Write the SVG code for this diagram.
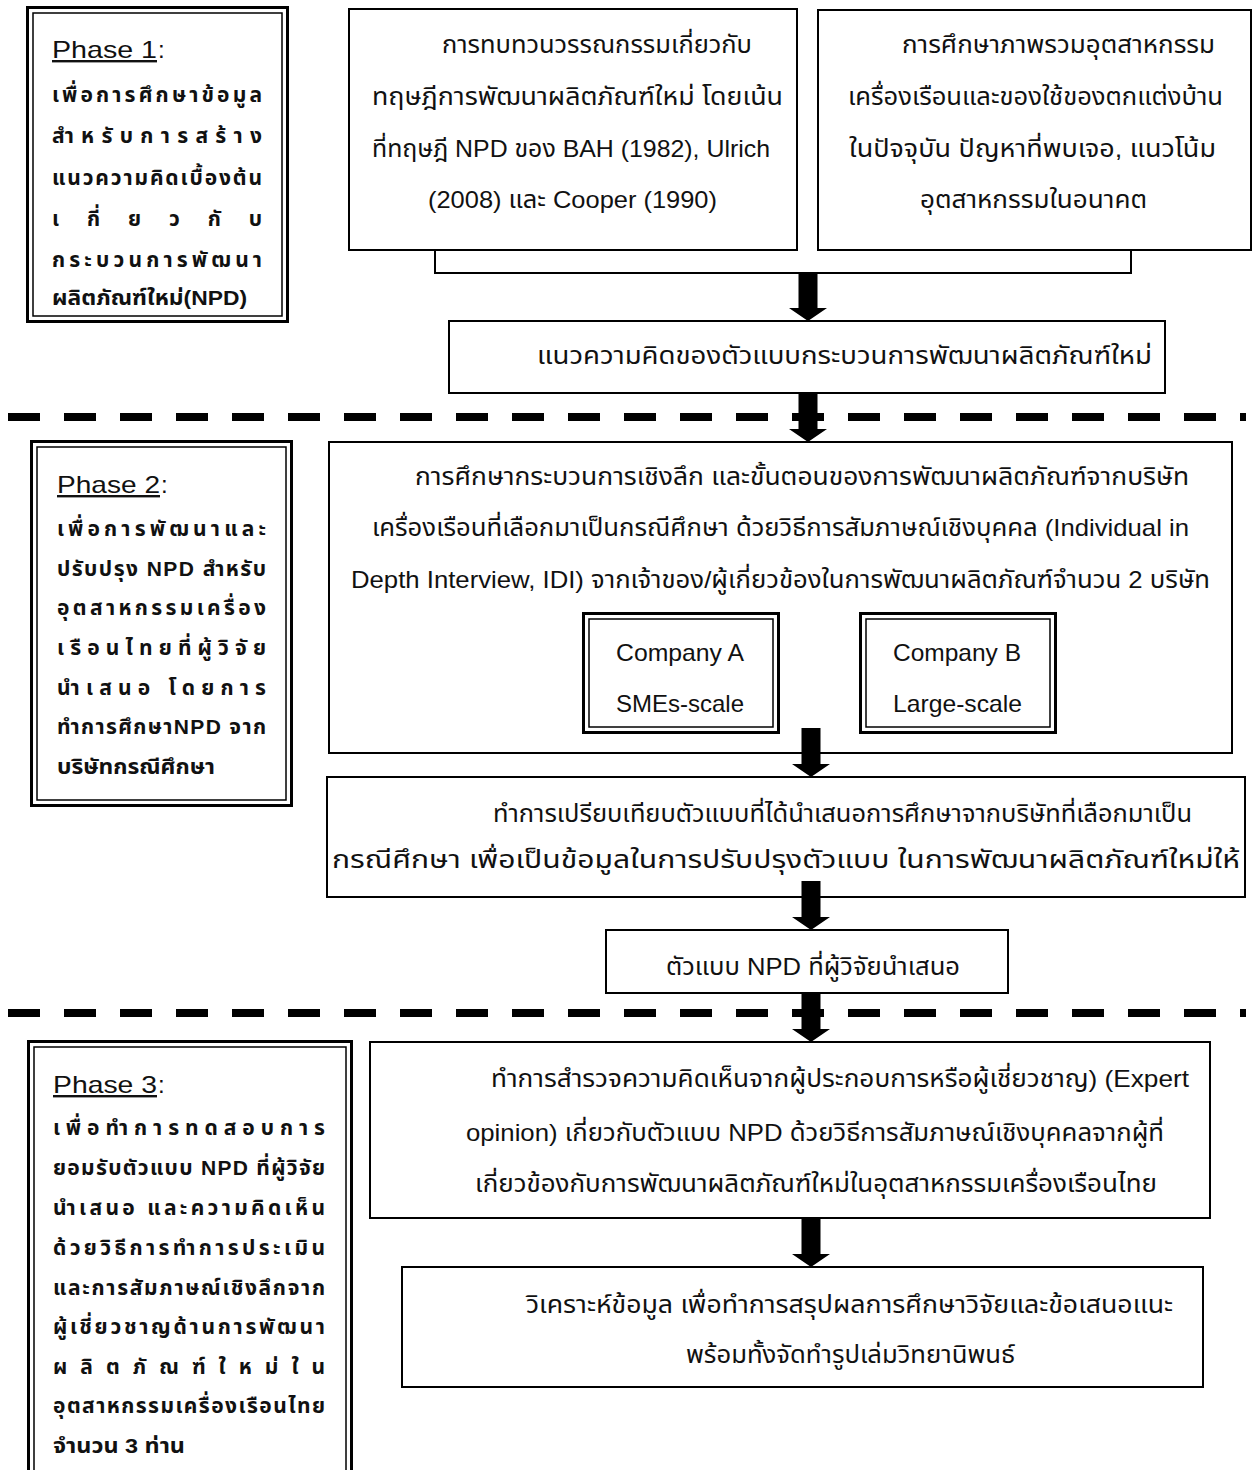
<svg xmlns="http://www.w3.org/2000/svg" xmlns:xlink="http://www.w3.org/1999/xlink" width="1253" height="1470" viewBox="0 0 1253 1470">
  <style>
    .box { fill: #fff; stroke: #000; stroke-width: 2; }
    .fo { fill: #fff; stroke: #000; stroke-width: 3; }
    .fi { fill: none; stroke: #000; stroke-width: 1.5; }
    .dash { stroke: #000; stroke-width: 8; stroke-dasharray: 32 24; fill: none; }
    .link { fill: none; stroke: #000; stroke-width: 2; }
    .t { font-family: 'Liberation Sans', 'Noto Sans Thai', 'Noto Sans', sans-serif; font-size: 24px; fill: #111; }
    .p { font-family: 'Liberation Sans', 'Noto Sans Thai', 'Noto Sans', sans-serif; font-size: 21px; font-weight: bold; fill: #111; }
    .lbl { font-family: 'Liberation Sans', 'Noto Sans', sans-serif; font-size: 24px; fill: #111; }
  </style>
  <defs>
    <!-- block arrow, 49 px long, tip at (0,49) -->
    <path id="arrow" d="M-9.5,0 H9.5 V36 H19 L0,49 L-19,36 H-9.5 Z" fill="#000"/>
  </defs>

  <rect width="1253" height="1470" fill="#fff"/>

  <!-- phase separators -->
  <g id="separators">
    <line class="dash" x1="8" y1="417" x2="1246" y2="417"/>
    <line class="dash" x1="8" y1="1013" x2="1246" y2="1013"/>
  </g>

  <!-- Phase 1 -->
  <g id="phase1">
    <rect class="fo" x="27.5" y="7.5" width="260" height="314"/>
    <rect class="fi" x="33" y="13" width="249" height="303"/>
    <text class="lbl" x="52" y="58" text-decoration="underline" textLength="105" lengthAdjust="spacingAndGlyphs">Phase 1</text>
    <text class="lbl" x="158" y="58">:</text>
    <text class="p" x="52" y="102" textLength="210" lengthAdjust="spacing">เพื่อการศึกษาข้อมูล</text>
    <text class="p" x="52" y="143" textLength="210" lengthAdjust="spacing">สำหรับการสร้าง</text>
    <text class="p" x="52" y="185" textLength="210" lengthAdjust="spacing">แนวความคิดเบื้องต้น</text>
    <text class="p" x="52" y="226" textLength="210" lengthAdjust="spacing">เกี่ยวกับ</text>
    <text class="p" x="52" y="267" textLength="210" lengthAdjust="spacing">กระบวนการพัฒนา</text>
    <text class="p" x="52" y="305" textLength="195" lengthAdjust="spacingAndGlyphs">ผลิตภัณฑ์ใหม่(NPD)</text>
  </g>

  <!-- Phase 1 process boxes -->
  <g id="review">
    <rect class="box" x="349" y="9" width="448" height="241"/>
    <text class="t" x="442" y="53" textLength="310" lengthAdjust="spacingAndGlyphs">การทบทวนวรรณกรรมเกี่ยวกับ</text>
    <text class="t" x="372" y="105" textLength="411" lengthAdjust="spacingAndGlyphs">ทฤษฎีการพัฒนาผลิตภัณฑ์ใหม่ โดยเน้น</text>
    <text class="t" x="372" y="157" textLength="398" lengthAdjust="spacingAndGlyphs">ที่ทฤษฎี NPD ของ BAH (1982), Ulrich</text>
    <text class="t" x="428" y="208" textLength="289" lengthAdjust="spacingAndGlyphs">(2008) และ Cooper (1990)</text>
  </g>
  <g id="overview">
    <rect class="box" x="818" y="10" width="433" height="240"/>
    <text class="t" x="902" y="53" textLength="313" lengthAdjust="spacingAndGlyphs">การศึกษาภาพรวมอุตสาหกรรม</text>
    <text class="t" x="848" y="105" textLength="375" lengthAdjust="spacingAndGlyphs">เครื่องเรือนและของใช้ของตกแต่งบ้าน</text>
    <text class="t" x="849" y="157" textLength="367" lengthAdjust="spacingAndGlyphs">ในปัจจุบัน ปัญหาที่พบเจอ, แนวโน้ม</text>
    <text class="t" x="920" y="208" textLength="227" lengthAdjust="spacingAndGlyphs">อุตสาหกรรมในอนาคต</text>
  </g>
  <g id="concept">
    <rect class="box" x="449" y="321" width="716" height="72"/>
    <text class="t" x="537" y="364" textLength="615" lengthAdjust="spacingAndGlyphs">แนวความคิดของตัวแบบกระบวนการพัฒนาผลิตภัณฑ์ใหม่</text>
  </g>

  <!-- Phase 2 -->
  <g id="phase2">
    <rect class="fo" x="31.5" y="441.5" width="260" height="364"/>
    <rect class="fi" x="37" y="447" width="249" height="353"/>
    <text class="lbl" x="57" y="493" text-decoration="underline" textLength="103" lengthAdjust="spacingAndGlyphs">Phase 2</text>
    <text class="lbl" x="161" y="493">:</text>
    <text class="p" x="57" y="536" textLength="209" lengthAdjust="spacing">เพื่อการพัฒนาและ</text>
    <text class="p" x="57" y="576" textLength="209" lengthAdjust="spacing">ปรับปรุง NPD สำหรับ</text>
    <text class="p" x="57" y="615" textLength="209" lengthAdjust="spacing">อุตสาหกรรมเครื่อง</text>
    <text class="p" x="57" y="655" textLength="209" lengthAdjust="spacing">เรือนไทยที่ผู้วิจัย</text>
    <text class="p" x="57" y="695" textLength="209" lengthAdjust="spacing">นำเสนอ โดยการ</text>
    <text class="p" x="57" y="734" textLength="209" lengthAdjust="spacing">ทำการศึกษาNPD จาก</text>
    <text class="p" x="57" y="774" textLength="158" lengthAdjust="spacingAndGlyphs">บริษัทกรณีศึกษา</text>
  </g>

  <g id="casestudy">
    <rect class="box" x="329" y="442" width="903" height="311"/>
    <text class="t" x="415" y="485" textLength="774" lengthAdjust="spacingAndGlyphs">การศึกษากระบวนการเชิงลึก และขั้นตอนของการพัฒนาผลิตภัณฑ์จากบริษัท</text>
    <text class="t" x="372" y="536" textLength="817" lengthAdjust="spacingAndGlyphs">เครื่องเรือนที่เลือกมาเป็นกรณีศึกษา ด้วยวิธีการสัมภาษณ์เชิงบุคคล (Individual in</text>
    <text class="t" x="351" y="588" textLength="859" lengthAdjust="spacingAndGlyphs">Depth Interview, IDI) จากเจ้าของ/ผู้เกี่ยวข้องในการพัฒนาผลิตภัณฑ์จำนวน 2 บริษัท</text>
  </g>
  <g id="companyA">
    <rect class="fo" x="583.5" y="613.5" width="195" height="119"/>
    <rect class="fi" x="589" y="619" width="184" height="108"/>
    <text class="t" x="616" y="661" textLength="128" lengthAdjust="spacingAndGlyphs">Company A</text>
    <text class="t" x="616" y="712" textLength="128" lengthAdjust="spacingAndGlyphs">SMEs-scale</text>
  </g>
  <g id="companyB">
    <rect class="fo" x="860.5" y="613.5" width="195" height="119"/>
    <rect class="fi" x="866" y="619" width="184" height="108"/>
    <text class="t" x="893" y="661" textLength="128" lengthAdjust="spacingAndGlyphs">Company B</text>
    <text class="t" x="893" y="712" textLength="129" lengthAdjust="spacingAndGlyphs">Large-scale</text>
  </g>
  <g id="compare">
    <rect class="box" x="327" y="777" width="918" height="120"/>
    <text class="t" x="493" y="822" textLength="699" lengthAdjust="spacingAndGlyphs">ทำการเปรียบเทียบตัวแบบที่ได้นำเสนอการศึกษาจากบริษัทที่เลือกมาเป็น</text>
    <text class="t" x="332" y="868" textLength="908" lengthAdjust="spacingAndGlyphs">กรณีศึกษา เพื่อเป็นข้อมูลในการปรับปรุงตัวแบบ ในการพัฒนาผลิตภัณฑ์ใหม่ให้</text>
  </g>
  <g id="proposed">
    <rect class="box" x="606" y="930" width="402" height="63"/>
    <text class="t" x="666" y="975" textLength="294" lengthAdjust="spacingAndGlyphs">ตัวแบบ NPD ที่ผู้วิจัยนำเสนอ</text>
  </g>

  <!-- Phase 3 -->
  <g id="phase3">
    <rect class="fo" x="28.5" y="1041.5" width="323" height="460"/>
    <rect class="fi" x="34" y="1047" width="312" height="450"/>
    <text class="lbl" x="53" y="1093" text-decoration="underline" textLength="104" lengthAdjust="spacingAndGlyphs">Phase 3</text>
    <text class="lbl" x="158" y="1093">:</text>
    <text class="p" x="53" y="1135" textLength="272" lengthAdjust="spacing">เพื่อทำการทดสอบการ</text>
    <text class="p" x="53" y="1175" textLength="272" lengthAdjust="spacing">ยอมรับตัวแบบ NPD ที่ผู้วิจัย</text>
    <text class="p" x="53" y="1215" textLength="272" lengthAdjust="spacing">นำเสนอ และความคิดเห็น</text>
    <text class="p" x="53" y="1255" textLength="272" lengthAdjust="spacing">ด้วยวิธีการทำการประเมิน</text>
    <text class="p" x="53" y="1295" textLength="272" lengthAdjust="spacing">และการสัมภาษณ์เชิงลึกจาก</text>
    <text class="p" x="53" y="1334" textLength="272" lengthAdjust="spacing">ผู้เชี่ยวชาญด้านการพัฒนา</text>
    <text class="p" x="53" y="1374" textLength="272" lengthAdjust="spacing">ผลิตภัณฑ์ใหม่ใน</text>
    <text class="p" x="53" y="1413" textLength="272" lengthAdjust="spacing">อุตสาหกรรมเครื่องเรือนไทย</text>
    <text class="p" x="53" y="1453" textLength="132" lengthAdjust="spacingAndGlyphs">จำนวน 3 ท่าน</text>
  </g>

  <g id="expert">
    <rect class="box" x="370" y="1042" width="840" height="176"/>
    <text class="t" x="491" y="1087" textLength="698" lengthAdjust="spacingAndGlyphs">ทำการสำรวจความคิดเห็นจากผู้ประกอบการหรือผู้เชี่ยวชาญ) (Expert</text>
    <text class="t" x="466" y="1141" textLength="698" lengthAdjust="spacingAndGlyphs">opinion) เกี่ยวกับตัวแบบ NPD ด้วยวิธีการสัมภาษณ์เชิงบุคคลจากผู้ที่</text>
    <text class="t" x="475" y="1192" textLength="682" lengthAdjust="spacingAndGlyphs">เกี่ยวข้องกับการพัฒนาผลิตภัณฑ์ใหม่ในอุตสาหกรรมเครื่องเรือนไทย</text>
  </g>
  <g id="analysis">
    <rect class="box" x="402" y="1267" width="801" height="120"/>
    <text class="t" x="526" y="1313" textLength="647" lengthAdjust="spacingAndGlyphs">วิเคราะห์ข้อมูล เพื่อทำการสรุปผลการศึกษาวิจัยและข้อเสนอแนะ</text>
    <text class="t" x="686" y="1363" textLength="329" lengthAdjust="spacingAndGlyphs">พร้อมทั้งจัดทำรูปเล่มวิทยานิพนธ์</text>
  </g>

  <!-- connectors -->
  <g id="connectors">
    <path class="link" d="M435,250 V273 H1131 V250"/>
    <use xlink:href="#arrow" transform="translate(808,272)"/>
    <use xlink:href="#arrow" transform="translate(808,393)"/>
    <use xlink:href="#arrow" transform="translate(811,728)"/>
    <use xlink:href="#arrow" transform="translate(811,881)"/>
    <use xlink:href="#arrow" transform="translate(811,993)"/>
    <use xlink:href="#arrow" transform="translate(811,1218)"/>
  </g>
</svg>
